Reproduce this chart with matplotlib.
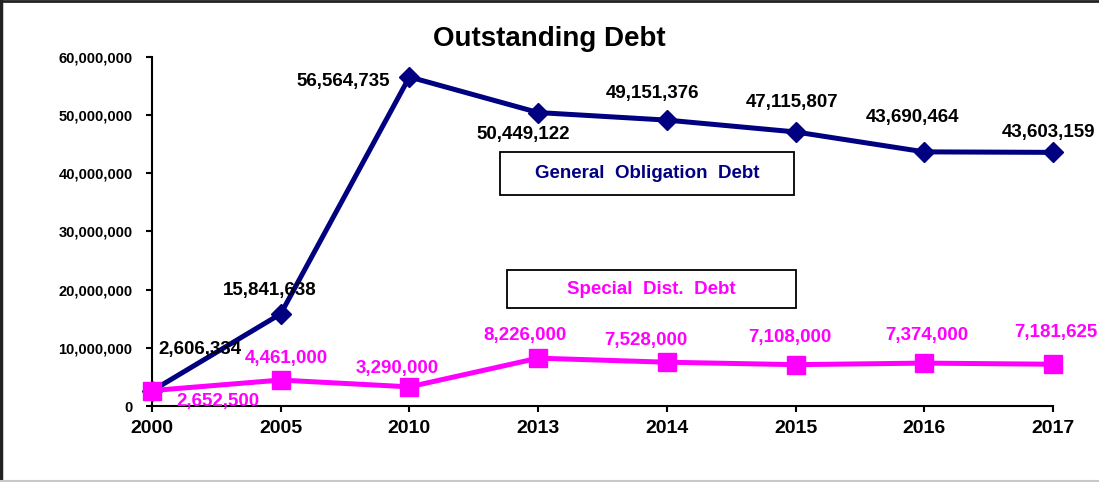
import matplotlib
matplotlib.use("Agg")
import matplotlib.pyplot as plt
from matplotlib.patches import Rectangle
from matplotlib.lines import Line2D
from matplotlib.ticker import FuncFormatter

plt.rcParams['font.family'] = ['Liberation Sans', 'DejaVu Sans']
plt.rcParams['font.weight'] = 'bold'

# Data
years = ['2000', '2005', '2010', '2013', '2014', '2015', '2016', '2017']
general_obligation = [2606334, 15841638, 56564735, 50449122, 49151376,
                      47115807, 43690464, 43603159]
special_district = [2652500, 4461000, 3290000, 8226000, 7528000,
                    7108000, 7374000, 7181625]

NAVY = '#000080'
MAGENTA = '#FF00FF'

# label offsets from each point, in pixels (dx, dy up)
go_offsets = [(48, 41), (-11, 23), (-66, -5), (-15, -22), (-14, 27),
              (-4, 29), (-12, 34), (-5, 20)]
sd_offsets = [(66, -11), (6, 22), (-12, 18), (-13, 23), (-21, 22),
              (-6, 27), (3, 28), (3, 32)]

W, H = 1099, 482
fig = plt.figure(figsize=(W / 100, H / 100), dpi=100)
ax = fig.add_axes([152 / W, 1 - 406 / H, (1053 - 152) / W, (406 - 57) / H])

x = range(len(years))
ax.plot(x, general_obligation, color=NAVY, lw=3.6, marker='D', ms=10,
        mec=NAVY, mew=1, clip_on=False, zorder=3)
ax.plot(x, special_district, color=MAGENTA, lw=3.6, marker='s', ms=13.5,
        mec=MAGENTA, mew=1, clip_on=False, zorder=3)

px = 0.72  # points per pixel at dpi 100
for i, v in enumerate(general_obligation):
    dx, dy = go_offsets[i]
    ax.annotate(f'{v:,}', (i, v), xytext=(dx * px, dy * px),
                textcoords='offset points', ha='center', va='center',
                fontsize=13.5, fontweight='bold', color='black', zorder=4)
for i, v in enumerate(special_district):
    dx, dy = sd_offsets[i]
    ax.annotate(f'{v:,}', (i, v), xytext=(dx * px, dy * px),
                textcoords='offset points', ha='center', va='center',
                fontsize=13.5, fontweight='bold', color=MAGENTA, zorder=4)

ax.set_xlim(0, len(years) - 1)
ax.set_ylim(0, 60000000)
ax.set_xticks(list(x))
ax.set_xticklabels(years)
ax.set_yticks(range(0, 60000001, 10000000))
ax.yaxis.set_major_formatter(FuncFormatter(lambda v, p: f'{int(v):,}'))

for side in ['top', 'right']:
    ax.spines[side].set_visible(False)
for side in ['left', 'bottom']:
    ax.spines[side].set_linewidth(1.5)
    ax.spines[side].set_color('black')
ax.tick_params(axis='y', direction='out', length=4, width=1.5, pad=10,
               labelsize=10.5)
ax.tick_params(axis='x', direction='out', length=4, width=1.5, pad=6,
               labelsize=14)
for lab in ax.get_xticklabels() + ax.get_yticklabels():
    lab.set_fontweight('bold')

fig.text(549 / W, 1 - 39 / H, 'Outstanding Debt', ha='center', va='center',
         fontsize=20, fontweight='bold')

# series name boxes
def name_box(x0, y0, x1, y1, text, color):
    fig.add_artist(Rectangle((x0 / W, 1 - y1 / H), (x1 - x0) / W, (y1 - y0) / H,
                             transform=fig.transFigure, fill=False,
                             edgecolor='black', lw=1.3))
    fig.text((x0 + x1) / 2 / W, 1 - (y0 + y1) / 2 / H, text, ha='center',
             va='center', fontsize=13.5, fontweight='bold', color=color)

name_box(500, 152, 794, 195, 'General  Obligation  Debt', NAVY)
name_box(507, 270, 796, 308, 'Special  Dist.  Debt', MAGENTA)

# outer frame
fig.add_artist(Line2D([0.5 / W, 0.5 / W], [0, 1], transform=fig.transFigure,
                      color='#222222', lw=2.5))
fig.add_artist(Line2D([0, 1], [1 - 1 / H, 1 - 1 / H], transform=fig.transFigure,
                      color='#222222', lw=2))
fig.add_artist(Line2D([0, 1], [1.5 / H, 1.5 / H], transform=fig.transFigure,
                      color='#c8c8c8', lw=1.5))

fig.savefig('out.png', dpi=100)
